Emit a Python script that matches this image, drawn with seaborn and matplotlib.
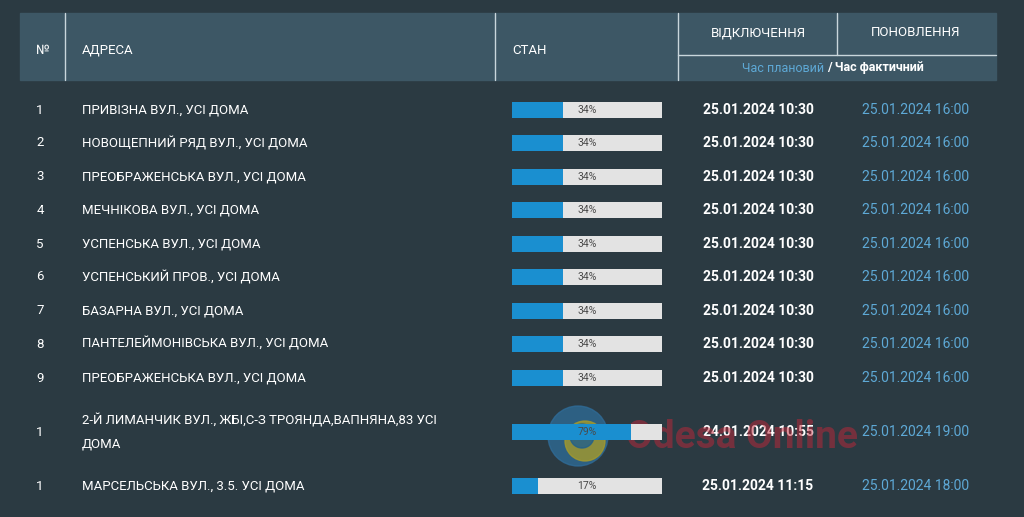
import matplotlib
matplotlib.use("Agg")
import matplotlib.pyplot as plt
import seaborn as sns
from matplotlib.patches import Rectangle, Circle

# table data
row_numbers = ["1", "2", "3", "4", "5", "6", "7", "8", "9", "1", "1"]
addresses = [
    "ПРИВІЗНА ВУЛ., УСІ ДОМА",
    "НОВОЩЕПНИЙ РЯД ВУЛ., УСІ ДОМА",
    "ПРЕОБРАЖЕНСЬКА ВУЛ., УСІ ДОМА",
    "МЕЧНІКОВА ВУЛ., УСІ ДОМА",
    "УСПЕНСЬКА ВУЛ., УСІ ДОМА",
    "УСПЕНСЬКИЙ ПРОВ., УСІ ДОМА",
    "БАЗАРНА ВУЛ., УСІ ДОМА",
    "ПАНТЕЛЕЙМОНІВСЬКА ВУЛ., УСІ ДОМА",
    "ПРЕОБРАЖЕНСЬКА ВУЛ., УСІ ДОМА",
    "2-Й ЛИМАНЧИК ВУЛ., ЖБІ,С-З ТРОЯНДА,ВАПНЯНА,83 УСІ\nДОМА",
    "МАРСЕЛЬСЬКА ВУЛ., 3.5. УСІ ДОМА",
]
progress = [34, 34, 34, 34, 34, 34, 34, 34, 34, 79, 17]
off_times = ["25.01.2024 10:30"] * 9 + ["24.01.2024 10:55", "25.01.2024 11:15"]
restore_times = ["25.01.2024 16:00"] * 9 + ["25.01.2024 19:00", "25.01.2024 18:00"]

BG = "#2b3a42"
HEAD = "#3d5765"
BLUE = "#1a8fd0"
LIGHT_BLUE = "#5ea9d6"
LINE = "#c9d6dc"

sns.set_theme(style="white")
plt.rcParams["font.family"] = ["Roboto", "DejaVu Sans"]

W, H = 1024, 517
fig = plt.figure(figsize=(W / 100, H / 100), dpi=100, facecolor=BG)
ax = fig.add_axes([0, 0, 1, 1])
ax.set_xlim(0, W)
ax.set_ylim(H, 0)
ax.set_facecolor(BG)
ax.axis("off")

# header block
ax.add_patch(Rectangle((20, 13), 976, 67, color=HEAD, zorder=1))
for x in [65, 495, 678]:
    ax.plot([x, x], [13, 80], color=LINE, lw=1, zorder=2)
ax.plot([837, 837], [13, 55], color=LINE, lw=1, zorder=2)
ax.plot([678, 996], [55, 55], color=LINE, lw=1, zorder=2)

hdr = dict(color="white", fontsize=9.5, va="center", zorder=3)
ax.text(43, 50, "№", ha="center", **hdr)
ax.text(82, 50, "АДРЕСА", ha="left", **hdr)
ax.text(512, 50, "СТАН", ha="left", **hdr)
ax.text(758, 33, "ВІДКЛЮЧЕННЯ", ha="center", **hdr)
ax.text(916, 33, "ПОНОВЛЕННЯ", ha="center", **hdr)
ax.text(827, 68, "Час плановий ", ha="right", va="center", color=LIGHT_BLUE, fontsize=9, zorder=3)
ax.text(827, 68, "/ Час фактичний", ha="left", va="center", color="white",
        fontsize=9, fontweight="bold", zorder=3)

# row positions (pixels)
row_y = [110, 143, 177, 210, 244, 277, 311, 344, 378, 432, 486]

for y, n, addr, t_off, t_on in zip(row_y, row_numbers, addresses, off_times, restore_times):
    ax.text(40, y, n, ha="center", va="center", color="white", fontsize=9.5)
    ax.text(82, y, addr, ha="left", va="center", color="white", fontsize=9.5, linespacing=2.0)
    ax.text(758, y, t_off, ha="center", va="center", color="white", fontsize=10, fontweight="bold")
    ax.text(916, y, t_on, ha="center", va="center", color=LIGHT_BLUE, fontsize=10)

# progress bars drawn on their own axes (x = percent)
bx = fig.add_axes([512 / W, 0, 150 / W, 1])
bx.set_xlim(0, 100)
bx.set_ylim(H, 0)
bx.axis("off")
bx.patch.set_alpha(0)
bx.barh(row_y, [100] * len(progress), height=16, color="#e3e3e3", linewidth=0, zorder=1)
bx.barh(row_y, progress, height=16, color=BLUE, linewidth=0, zorder=2)
for y, p in zip(row_y, progress):
    bx.text(50, y, f"{p}%", ha="center", va="center", color="#4a4a4a", fontsize=7.5, zorder=3)

# watermark (logo + site name)
ax.add_patch(Circle((578, 436), 30, color="#2f6d9a", alpha=0.75, zorder=4))
ax.add_patch(Circle((585, 441), 20, color="#a59a2c", alpha=0.8, zorder=5))
ax.add_patch(Circle((582, 436), 12, color="#1f5f8c", alpha=0.8, zorder=6))
ax.text(626, 438, "Odesa Online", ha="left", va="center", color="#c0283a", alpha=0.5,
        fontsize=28, fontweight="bold", zorder=7)

fig.savefig("out.png", dpi=100, facecolor=BG)
